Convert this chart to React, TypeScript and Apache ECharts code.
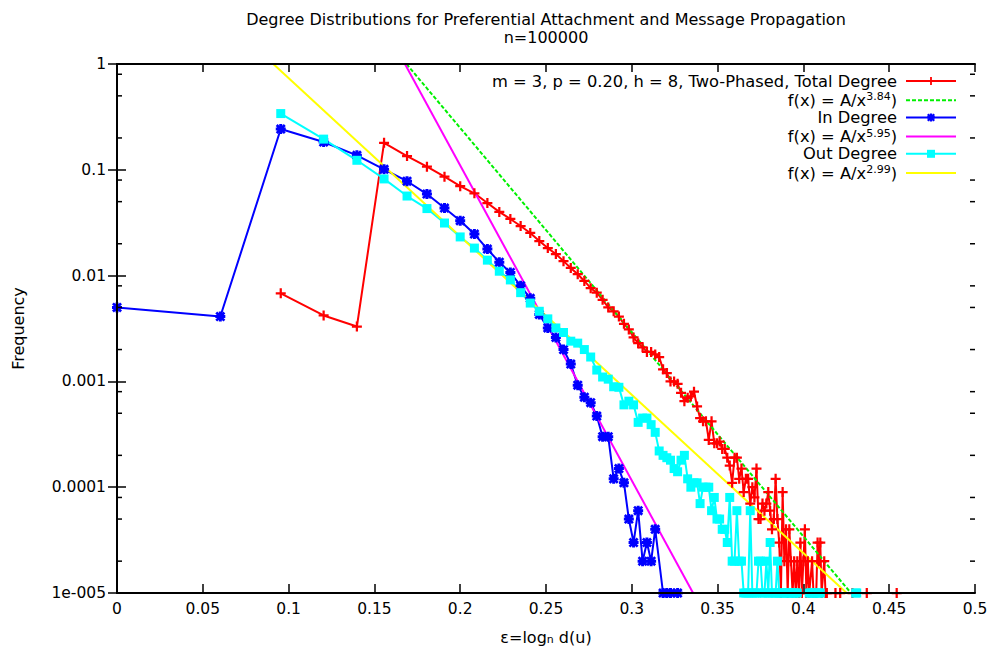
import React, { useEffect, useRef } from "react";
import * as echarts from "echarts";

const N = 100000;
const FONT = "DejaVu Sans";

const titleLines = [
  "Degree Distributions for Preferential Attachment and Message Propagation",
  "n=100000",
];
const xAxisName = ["ε=log", "n", " d(u)"];
const yAxisName = "Frequency";
const yTickLabels = ["1", "0.1", "0.01", "0.001", "0.0001", "1e-005"];
const yMinorTicks = [
  0.8, 0.5, 0.2, 0.08, 0.05, 0.02, 0.008, 0.005, 0.002, 0.0008, 0.0005, 0.0002,
  0.00008, 0.00005, 0.00002,
];

const totalLabel = "m = 3, p = 0.20, h = 8, Two-Phased, Total Degree";
const inLabel = "In Degree";
const outLabel = "Out Degree";
const fitExponents = ["3.84", "5.95", "2.99"];

// [degree, frequency]
const totalDegree: [number, number][] = [
  [3, 0.0068], [4, 0.0042], [5, 0.0033], [6, 0.18], [7, 0.135], [8, 0.107], [9, 0.086],
  [10, 0.07], [11, 0.06], [12, 0.0485], [13, 0.04], [14, 0.0343], [15, 0.0294], [16, 0.0253],
  [17, 0.0212], [18, 0.0182], [19, 0.016], [20, 0.0137], [21, 0.0118], [22, 0.0103],
  [23, 0.0089], [24, 0.0076], [25, 0.0069], [26, 0.0059], [27, 0.005], [28, 0.0046],
  [29, 0.0041], [30, 0.0035], [31, 0.0031], [32, 0.0026], [33, 0.0023], [34, 0.0021],
  [35, 0.0019], [36, 0.0019], [37, 0.0018], [38, 0.0017], [39, 0.0013], [40, 0.0012],
  [41, 0.001], [42, 0.001], [43, 0.00095], [44, 0.00078], [45, 0.00065], [46, 0.0007],
  [47, 0.00072], [48, 0.0008], [49, 0.00058], [50, 0.00045], [51, 0.00042], [52, 0.00042],
  [53, 0.00028], [54, 0.00042], [55, 0.00026], [56, 0.00026], [57, 0.00027], [58, 0.00023],
  [59, 0.00023], [60, 0.00019], [61, 0.00016], [62, 0.00011], [63, 0.00019], [64, 0.00019],
  [65, 0.00012], [66, 0.00015], [67, 0.00009], [68, 0.00012], [69, 0.00012], [70, 0.00007],
  [71, 0.0001], [72, 0.00008], [73, 0.00015], [74, 0.00005], [75, 0.00005], [76, 0.00007],
  [77, 0.00006], [78, 0.00007], [79, 0.00009], [80, 0.00006], [81, 0.00004], [82, 0.00005],
  [83, 0.00012], [84, 0.00005], [85, 0.00003], [86, 0.00001], [87, 0.00009], [88, 0.00002],
  [89, 0.00004], [90, 0.00001], [91, 0.00004], [92, 0.00002], [93, 0.00001], [94, 0.00002],
  [95, 0.00001], [96, 0.00002], [97, 0.00001], [98, 0.00003], [99, 0.00001], [100, 0.00002],
  [101, 0.00004], [102, 0.00001], [103, 0.00002], [104, 0.00001], [106, 0.00002],
  [107, 0.00001], [109, 0.00001], [110, 0.00003], [111, 0.00002], [112, 0.00003],
  [113, 0.00001], [115, 0.00002], [116, 0.00001], [117, 0.00001], [124, 0.00001],
  [128, 0.00001], [139, 0.00001], [153, 0.00001], [187, 0.00001],
];

const inDegree: [number, number][] = [
  [1, 0.005], [2, 0.0041], [3, 0.243], [4, 0.183], [5, 0.137], [6, 0.101], [7, 0.078],
  [8, 0.059], [9, 0.0435], [10, 0.033], [11, 0.0247], [12, 0.0178], [13, 0.0134],
  [14, 0.0107], [15, 0.008], [16, 0.0061], [17, 0.0043], [18, 0.0032], [19, 0.0026],
  [20, 0.002], [21, 0.00146], [22, 0.00092], [23, 0.00071], [24, 0.00063], [25, 0.00047],
  [26, 0.0003], [27, 0.0003], [28, 0.00012], [29, 0.00015], [30, 0.00011], [31, 0.00005],
  [32, 0.00003], [33, 0.00006], [34, 0.00002], [35, 0.00003], [36, 0.00002], [37, 0.00004],
  [39, 0.00001], [40, 0.00001], [41, 0.00001], [43, 0.00001],
];

const outDegree: [number, number][] = [
  [3, 0.34], [4, 0.195], [5, 0.123], [6, 0.082], [7, 0.0565], [8, 0.043], [9, 0.0314],
  [10, 0.0232], [11, 0.0182], [12, 0.014], [13, 0.011], [14, 0.0091], [15, 0.0069],
  [16, 0.0055], [17, 0.0046], [18, 0.0039], [19, 0.0032], [20, 0.0029], [21, 0.0024],
  [22, 0.0023], [23, 0.002], [24, 0.0017], [25, 0.00128], [26, 0.0011], [27, 0.00105],
  [28, 0.00089], [29, 0.00088], [30, 0.0006], [31, 0.00065], [32, 0.0006], [33, 0.00041],
  [34, 0.00045], [35, 0.00045], [36, 0.00039], [37, 0.00033], [38, 0.00022], [39, 0.0002],
  [40, 0.00019], [41, 0.00018], [42, 0.00015], [43, 0.00014], [44, 0.00018], [45, 0.0002],
  [46, 0.00012], [47, 0.0001], [48, 0.00011], [49, 0.00011], [50, 0.00007], [51, 0.0001],
  [52, 0.0001], [53, 0.0001], [54, 0.00006], [55, 0.00008], [56, 0.00005], [57, 0.00005],
  [58, 0.00004], [59, 0.00004], [60, 0.00003], [61, 0.00008], [62, 0.00002], [63, 0.00002],
  [64, 0.00006], [65, 0.00002], [66, 0.00002], [67, 0.00001], [68, 0.00001], [69, 0.00001],
  [70, 0.00006], [71, 0.00001], [72, 0.00001], [73, 0.00001], [74, 0.00002], [75, 0.00002],
  [76, 0.00001], [77, 0.00001], [78, 0.00002], [79, 0.00001], [80, 0.00003], [81, 0.00001],
  [82, 0.00001], [83, 0.00001], [84, 0.00002], [85, 0.00001], [86, 0.00001], [87, 0.00001],
  [88, 0.00001], [90, 0.00001], [91, 0.00001], [92, 0.00001], [93, 0.00001], [94, 0.00001],
  [95, 0.00001], [96, 0.00001], [104, 0.00001], [105, 0.00001], [106, 0.00001],
  [107, 0.00001], [108, 0.00001], [110, 0.00001], [111, 0.00001], [112, 0.00001],
  [142, 0.00001], [143, 0.00001],
];

// fitted power laws, endpoints in (ε, frequency) where they cross the plot box
const fitTotalX = [0.1687, 0.4277];
const fitInX = [0.1678, 0.3357];
const fitOutX = [0.0911, 0.4252];
const fitY = [1, 0.00001];

const PLUS = "path://M3.1,0h1.8v8h-1.8zM0,3.1h8v1.8h-8z";
const STAR =
  "path://M2.8,0h2.4v8h-2.4zM0,2.8h8v2.4h-8zM0,1.5L1.5,0L8,6.5L6.5,8zM6.5,0L8,1.5L1.5,8L0,6.5z";

const toEps = (d: number) => Math.log(d) / Math.log(N);
const toXY = (arr: [number, number][]) => arr.map(([d, f]) => [toEps(d), f]);
const fitData = (xs: number[]) => xs.map((x, i) => [x, fitY[i]]);

const fitName = (e: string) => `f(x) = A/x^${e})`;

export default function App() {
  const ref = useRef<HTMLDivElement>(null);
  useEffect(() => {
    if (!ref.current) return;
    const chart = echarts.init(ref.current, undefined, { renderer: "svg" });

    const names = [
      totalLabel,
      fitName(fitExponents[0]),
      inLabel,
      fitName(fitExponents[1]),
      outLabel,
      fitName(fitExponents[2]),
    ];

    const rich = {
      t: { fontSize: 16.3, fontFamily: FONT, color: "#000", lineHeight: 18 },
      s: { fontSize: 11, fontFamily: FONT, color: "#000", lineHeight: 10, verticalAlign: "top" },
    };

    const legendFormatter = (name: string) => {
      const m = name.match(/^(.*)\^([^)]*)\)$/);
      if (m) return `{t|${m[1]}}{s|${m[2]}}{t|)}`;
      return `{t|${name}}`;
    };

    const legends = names.map((n, i) => {
      const l: any = {
        data: [n],
        right: 33,
        top: 73 + i * 18.2,
        orient: "horizontal",
        align: "right",
        itemWidth: 50,
        itemHeight: 10,
        padding: 0,
        itemGap: 0,
        selectedMode: false,
        formatter: legendFormatter,
        textStyle: { rich, padding: [0, 4, 0, 0] },
      };
      if (i % 2 === 1) l.itemStyle = { opacity: 0 };
      return l;
    });

    const axisLine = { show: true, lineStyle: { color: "#000", width: 2 } };
    const axisTick = { show: true, inside: true, length: 9, lineStyle: { color: "#000", width: 1.5 } };
    const labelStyle = { color: "#000", fontSize: 15.5, fontFamily: FONT };

    const option: any = {
      animation: false,
      backgroundColor: "#fff",
      title: {
        text: titleLines.join("\n"),
        left: 546,
        textAlign: "center",
        top: 10,
        padding: 0,
        textStyle: { fontSize: 16, fontWeight: "normal", fontFamily: FONT, color: "#000", lineHeight: 18 },
      },
      legend: legends,
      grid: { left: 117, right: 15, top: 64, bottom: 55, containLabel: false, outerBoundsMode: "none" },
      xAxis: [
        {
          type: "value",
          min: 0,
          max: 0.5,
          interval: 0.05,
          position: "bottom",
          z: 10,
          axisLine,
          axisTick,
          splitLine: { show: false },
          axisLabel: { ...labelStyle, margin: 8 },
          name: `{t|${xAxisName[0]}}{s|${xAxisName[1]}}{t|${xAxisName[2]}}`,
          nameLocation: "middle",
          nameGap: 36,
          nameTextStyle: {
            rich: {
              t: { fontSize: 16, fontFamily: FONT, color: "#000", lineHeight: 16, verticalAlign: "top" },
              s: { fontSize: 11, fontFamily: FONT, color: "#000", lineHeight: 16, verticalAlign: "bottom", padding: [4, 0, 0, 0] },
            },
          },
        },
        {
          type: "value",
          min: 0,
          max: 0.5,
          interval: 0.05,
          position: "top",
          z: 10,
          axisLine,
          axisTick: { ...axisTick, length: 8 },
          splitLine: { show: false },
          axisLabel: { show: false },
        },
      ],
      yAxis: [
        {
          type: "log",
          logBase: 10,
          min: 0.00001,
          max: 1,
          position: "left",
          z: 10,
          axisLine,
          axisTick,
          splitLine: { show: false },
          axisLabel: {
            ...labelStyle,
            margin: 11,
            formatter: (v: number) => yTickLabels[Math.round(-Math.log10(v))] ?? "",
          },
          name: yAxisName,
          nameLocation: "middle",
          nameGap: 91,
          nameTextStyle: { fontSize: 16, fontFamily: FONT, color: "#000" },
        },
        {
          type: "log",
          logBase: 10,
          min: 0.00001,
          max: 1,
          position: "right",
          z: 10,
          axisLine,
          axisTick,
          splitLine: { show: false },
          axisLabel: { show: false },
        },
      ],
      series: [
        {
          name: names[0],
          type: "line",
          data: toXY(totalDegree),
          symbol: PLUS,
          symbolSize: 10,
          showAllSymbol: true,
          color: "#ff0000",
          lineStyle: { width: 2, color: "#ff0000" },
          itemStyle: { color: "#ff0000" },
        },
        {
          name: names[1],
          type: "line",
          data: fitData(fitTotalX),
          symbol: "none",
          color: "#00f000",
          lineStyle: { width: 2, color: "#00f000", type: [4, 2] },
        },
        {
          name: names[2],
          type: "line",
          data: toXY(inDegree),
          symbol: STAR,
          symbolSize: 10,
          showAllSymbol: true,
          color: "#0000ff",
          lineStyle: { width: 2, color: "#0000ff" },
          itemStyle: { color: "#0000ff" },
        },
        {
          name: names[3],
          type: "line",
          data: fitData(fitInX),
          symbol: "none",
          color: "#ff00ff",
          lineStyle: { width: 2, color: "#ff00ff" },
        },
        {
          name: names[4],
          type: "line",
          data: toXY(outDegree),
          symbol: "rect",
          symbolSize: 9,
          showAllSymbol: true,
          color: "#00ffff",
          lineStyle: { width: 2, color: "#00ffff" },
          itemStyle: { color: "#00ffff" },
        },
        {
          name: names[5],
          type: "line",
          data: fitData(fitOutX),
          symbol: "none",
          color: "#ffff00",
          lineStyle: { width: 2, color: "#ffff00" },
        },
        {
          type: "custom",
          silent: true,
          clip: false,
          z: 10,
          data: yMinorTicks.map((v) => [0, v]),
          renderItem: (_p: any, api: any) => {
            const v = api.value(1);
            const l = api.coord([0, v]);
            const r = api.coord([0.5, v]);
            return {
              type: "group",
              children: [
                { type: "line", shape: { x1: l[0], y1: l[1], x2: l[0] + 5, y2: l[1] }, style: { stroke: "#000", lineWidth: 1.5 } },
                { type: "line", shape: { x1: r[0] - 5, y1: r[1], x2: r[0], y2: r[1] }, style: { stroke: "#000", lineWidth: 1.5 } },
              ],
            };
          },
        },
      ],
    };

    chart.setOption(option);
    return () => chart.dispose();
  }, []);

  return (
    <div
      ref={ref}
      style={{ position: "fixed", left: 0, top: 0, width: 990, height: 648, background: "#fff" }}
    />
  );
}
